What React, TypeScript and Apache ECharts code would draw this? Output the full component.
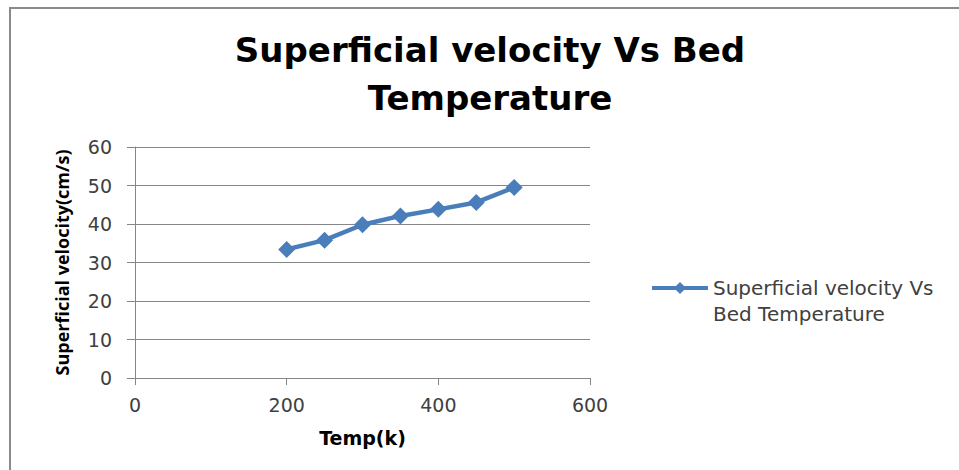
import React, { useEffect, useRef } from "react";
import * as echarts from "echarts";

// Bed temperature (K) and the measured superficial velocity (cm/s)
const temperatures = [200, 250, 300, 350, 400, 450, 500];
const velocities = [33.4, 35.8, 39.8, 42.1, 43.8, 45.6, 49.5];

const chartTitle = "Superficial velocity Vs Bed\nTemperature";
const seriesName = "Superficial velocity Vs Bed Temperature";
// a blank first line keeps the first text line level with the legend symbol
const legendLabel = "\nSuperficial velocity Vs\nBed Temperature";
const xAxisName = "Temp(k)";
const yAxisName = "Superficial velocity(cm/s)";

const BLUE = "#4a7ebb";
const GRID_GRAY = "#868686";
const TEXT = "#404040";
const WIDE = "'DejaVu Sans', 'Open Sans', sans-serif";
const NARROW = "'Open Sans', 'DejaVu Sans', sans-serif";

export default function App() {
  const ref = useRef<HTMLDivElement>(null);

  useEffect(() => {
    if (!ref.current) return;
    const chart = echarts.init(ref.current, undefined, { renderer: "svg" });
    chart.setOption({
      animation: false,
      backgroundColor: "#ffffff",
      textStyle: { fontFamily: WIDE },
      title: {
        text: chartTitle,
        left: 490,
        top: 26,
        textAlign: "center",
        padding: 0,
        textStyle: {
          fontFamily: WIDE,
          fontSize: 34,
          fontWeight: "bold",
          color: "#000000",
          lineHeight: 48,
        },
      },
      graphic: [
        {
          type: "rect",
          shape: { x: 10, y: 8, width: 1200, height: 800 },
          style: { fill: "none", stroke: "#8a8a8a", lineWidth: 2 },
          silent: true,
          z: 100,
        },
      ],
      legend: {
        left: 650,
        top: 249,
        padding: 0,
        itemWidth: 56,
        itemHeight: 15,
        itemGap: 5,
        data: [seriesName],
        formatter: () => legendLabel,
        lineStyle: { width: 4 },
        textStyle: {
          fontFamily: WIDE,
          fontSize: 20,
          color: TEXT,
          lineHeight: 26,
        },
      },
      grid: { left: 135, right: 369, top: 147, bottom: 92 },
      xAxis: {
        type: "value",
        min: 0,
        max: 600,
        interval: 200,
        name: xAxisName,
        nameLocation: "middle",
        nameGap: 50,
        nameTextStyle: { fontFamily: WIDE, fontSize: 19, fontWeight: "bold", color: "#000000" },
        axisLine: { show: true, lineStyle: { color: GRID_GRAY, width: 1 } },
        axisTick: { show: true, length: 7, lineStyle: { color: GRID_GRAY } },
        axisLabel: { fontFamily: WIDE, fontSize: 19, color: TEXT, margin: 17 },
        splitLine: { show: false },
      },
      yAxis: {
        type: "value",
        min: 0,
        max: 60,
        interval: 10,
        name: yAxisName,
        nameLocation: "middle",
        nameRotate: 90,
        nameGap: 64,
        nameTextStyle: { fontFamily: NARROW, fontSize: 18, fontWeight: "bold", color: "#000000" },
        axisLine: { show: true, lineStyle: { color: GRID_GRAY, width: 1 } },
        axisTick: { show: true, length: 8, lineStyle: { color: GRID_GRAY } },
        axisLabel: { fontFamily: WIDE, fontSize: 19, color: TEXT, margin: 23 },
        splitLine: { show: true, lineStyle: { color: GRID_GRAY, width: 1 } },
      },
      series: [
        {
          name: seriesName,
          type: "line",
          data: temperatures.map((t, i) => [t, velocities[i]]),
          symbol: "diamond",
          symbolSize: 17,
          lineStyle: { color: BLUE, width: 4.5 },
          itemStyle: { color: BLUE },
        },
      ],
    });
    return () => chart.dispose();
  }, []);

  return (
    <div
      ref={ref}
      style={{ position: "fixed", left: 0, top: 0, width: 959, height: 470 }}
    />
  );
}
